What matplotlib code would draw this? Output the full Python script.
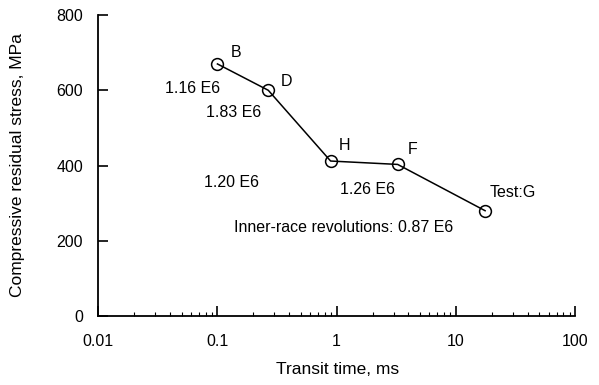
import matplotlib.pyplot as plt
from matplotlib.ticker import LogLocator, NullFormatter, FixedLocator

plt.rcParams['font.family'] = ['Liberation Sans', 'DejaVu Sans']

# Data
transit_ms = [0.10, 0.267, 0.89, 3.25, 17.6]
stress_mpa = [670, 600, 412, 403, 280]
point_names = ["B", "D", "H", "F", "Test:G"]
revolutions = ["1.16 E6", "1.83 E6", "1.20 E6", "1.26 E6",
               "Inner-race revolutions: 0.87 E6"]

# label offsets in pixels (name, revolutions) relative to each point
name_offsets = [(19, 11), (18, 9), (14, 16), (15, 15), (28, 18)]
rev_offsets = [(-25, -25), (-35, -22), (-99, -21), (-30, -25), (-141, -17)]

fig = plt.figure(figsize=(5.99, 3.85), dpi=100)
ax = fig.add_axes([0.164, 0.179, 0.796, 0.782])

ax.plot(transit_ms, stress_mpa, color='black', linewidth=1.1,
        marker='o', markersize=8.5, markerfacecolor='none',
        markeredgecolor='black', markeredgewidth=1.1)

fs = 11.5
px = 0.72  # pixels -> points at 100 dpi
for x, y, name, rev, no, ro in zip(transit_ms, stress_mpa, point_names,
                                   revolutions, name_offsets, rev_offsets):
    ax.annotate(name, (x, y), xytext=(no[0] * px, no[1] * px),
                textcoords='offset points', ha='center', va='center',
                fontsize=fs)
    ax.annotate(rev, (x, y), xytext=(ro[0] * px, ro[1] * px),
                textcoords='offset points', ha='center', va='center',
                fontsize=fs)

ax.set_xscale('log')
ax.set_xlim(0.01, 100)
ax.set_ylim(0, 800)
ax.set_yticks([0, 200, 400, 600, 800])
ax.xaxis.set_major_locator(FixedLocator([0.01, 0.1, 1, 10, 100]))
ax.set_xticklabels(["0.01", "0.1", "1", "10", "100"])
ax.xaxis.set_minor_locator(LogLocator(base=10, subs=range(2, 10)))
ax.xaxis.set_minor_formatter(NullFormatter())

for side in ['top', 'right']:
    ax.spines[side].set_visible(False)
for side in ['left', 'bottom']:
    ax.spines[side].set_linewidth(1.3)

ax.tick_params(axis='both', which='major', direction='in', length=7,
               width=1.2, labelsize=fs)
ax.tick_params(axis='y', which='major', pad=11)
ax.tick_params(axis='x', which='major', pad=13)
ax.tick_params(axis='x', which='minor', direction='in', length=3, width=0.8)

ax.set_xlabel('Transit time, ms', fontsize=12.5)
ax.set_ylabel('Compressive residual stress, MPa', fontsize=12.5)
ax.xaxis.set_label_coords(0.501, -0.153)
ax.yaxis.set_label_coords(-0.153, 0.5)

fig.savefig('out.png', dpi=100)
